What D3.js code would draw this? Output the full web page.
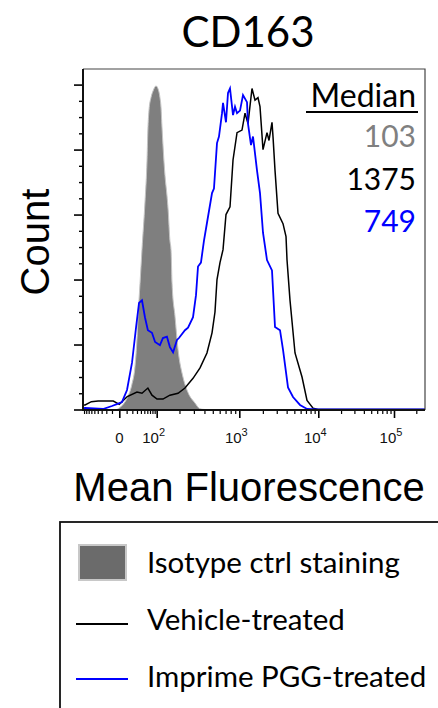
<!DOCTYPE html>
<html>
<head>
<meta charset="utf-8">
<script src="https://cdn.jsdelivr.net/npm/d3@7"></script>
<style>
  body { margin: 0; background: #fff; }
  svg { display: block; }
</style>
</head>
<body>
<div id="chart"></div>
<script>
// flow histogram values: [fluorescence, count]
var isotype = [[-3,0],[3.4,3],[12,10],[19,19],[25.5,33],[30,54],[32.5,71],[37.6,97],[43,123],[52,159],[59,192],[62,215],[66,230],[74,240],[82.5,245],[96.5,249],[104,247],[111,240],[115,232],[118,219],[122,204],[130,180],[138,165],[143,154],[151,130],[156,123],[161,97],[176,71],[192,46],[221,25],[255,13],[309,5],[355,0.5],[406,0]];

var vehicle = [[-95,3.5],[-85,3.5],[-60,6],[-39,6.5],[-8,6.5],[0,4],[11,10],[30,13.5],[43,12.5],[62,16.5],[78,11],[101,8],[122,8],[151,11],[192,12.5],[234,16.5],[293,24],[355,32],[428,43.5],[490,59],[530,75],[559,100],[605,113],[655,123],[708,150],[786,156],[850,192],[943,213],[1083,215],[1184,228],[1293,220],[1455,247],[1589,238],[1735,240],[1840,233],[2009,200],[2258,213],[2394,207],[2612,221],[2690,210],[2852,184],[3111,151],[3598,143],[3927,133],[4043,115],[4410,84],[5097,43.5],[6244,25],[7216,7],[8585,1],[9919,0],[262144,0]];

var imprime = [[-95,1],[-85,1.2],[-27,0.4],[-10,2.7],[-3,4.2],[3.4,5.8],[10.6,15],[19.4,36],[28,63.5],[35,82],[43,84],[52,71],[62,61],[78,59],[92,52],[111,49.5],[122,55],[138,56],[151,48],[166,44],[186,53.5],[197,55],[234,61],[255,63],[293,71],[318,88],[336,110],[364,113],[395,130],[428,143.5],[490,166.5],[516,170],[559,205],[589,210],[638,228],[655,236],[708,221],[746,243.5],[786,247],[850,226.5],[895,233],[943,228],[1021,230],[1116,242],[1256,236.5],[1293,220],[1413,203.5],[1499,210],[1685,184],[1840,166.5],[2009,136],[2258,115],[2612,107],[2852,63.5],[3298,61],[3598,46],[4160,17],[4811,9.6],[5893,3.5],[7216,0.4],[9635,0],[262144,0]];

var medianLabels = ["103", "1375", "749"];
var medianColors = ["#808080", "#000000", "#0000ff"];

var xMajor = [0, 1e2, 1e3, 1e4, 1e5];
var xMajorLabels = [["0", ""], ["10", "2"], ["10", "3"], ["10", "4"], ["10", "5"]];
var xMinor = [-90,-80,-70,-60,-50,-40,-30,-20,-10,10,20,30,40,50,60,70,80,90,
  200,300,400,500,600,700,800,900,2000,3000,4000,5000,6000,7000,8000,9000,
  20000,30000,40000,50000,60000,70000,80000,90000,200000];
var yMajor = [0, 50, 100, 150, 200, 250];
var yMinor = [12.5, 25, 37.5, 62.5, 75, 87.5, 112.5, 125, 137.5, 162.5, 175, 187.5, 212.5, 225, 237.5];

var legendItems = ["Isotype ctrl staining", "Vehicle-treated", "Imprime PGG-treated"];

const W = 438, H = 708;
const pLeft = 83, pRight = 425, pTop = 69, pBottom = 410;

var svg = d3.select("#chart").append("svg")
    .attr("width", W)
    .attr("height", H);

// biexponential-like display: symlog pieces pinned to the decade ticks
const x = d3.scaleSymlog()
    .constant(30)
    .domain([-95, 0, 1e2, 1e3, 1e4, 1e5, 262144])
    .range([pLeft, 119.3, 156.7, 239.3, 318.3, 394, pRight]);

const y = d3.scaleLinear()
    .domain([0, 262])
    .range([pBottom - 0.5, pTop]);

svg.append("defs").append("clipPath").attr("id", "clip")
  .append("rect").attr("x", pLeft).attr("y", pTop).attr("width", pRight - pLeft).attr("height", pBottom - pTop);

var plot = svg.append("g").attr("clip-path", "url(#clip)");

// isotype filled
plot.append("path")
    .datum(isotype)
    .attr("fill", "#7f7f7f")
    .attr("stroke", "#c4c4c4")
    .attr("stroke-width", 1)
    .attr("d", d3.area()
        .curve(d3.curveMonotoneX)
        .x(d => x(d[0]))
        .y0(y(0))
        .y1(d => y(d[1])));

var line = d3.line()
    .x(d => x(d[0]))
    .y(d => y(d[1]));

plot.append("path")
    .datum(vehicle)
    .attr("fill", "none")
    .attr("stroke", "#000")
    .attr("stroke-width", 1.5)
    .attr("d", line);

plot.append("path")
    .datum(imprime)
    .attr("fill", "none")
    .attr("stroke", "#0000ff")
    .attr("stroke-width", 1.8)
    .attr("d", line);

// frame
svg.append("path")
    .attr("d", `M${pLeft},${pTop}H${pRight}V${pBottom}`)
    .attr("fill", "none")
    .attr("stroke", "#444")
    .attr("stroke-width", 1.2);

// y axis
svg.append("g")
    .attr("transform", `translate(${pLeft},0)`)
    .call(d3.axisLeft(y).tickValues(yMajor).tickSize(9).tickFormat(""))
    .call(g => g.select(".domain").remove())
    .call(g => g.selectAll("line").attr("stroke-width", 1.6));
svg.append("g")
    .attr("transform", `translate(${pLeft},0)`)
    .call(d3.axisLeft(y).tickValues(yMinor).tickSize(4).tickFormat(""))
    .call(g => g.select(".domain").remove())
    .call(g => g.selectAll("line").attr("stroke-width", 1.4));

// x axis
svg.append("g")
    .attr("transform", `translate(0,${pBottom})`)
    .call(d3.axisBottom(x).tickValues(xMajor).tickSize(8).tickFormat(""))
    .call(g => g.select(".domain").remove())
    .call(g => g.selectAll("line").attr("stroke-width", 1.6));
svg.append("g")
    .attr("transform", `translate(0,${pBottom})`)
    .call(d3.axisBottom(x).tickValues(xMinor).tickSize(4).tickFormat(""))
    .call(g => g.select(".domain").remove())
    .call(g => g.selectAll("line").attr("stroke-width", 1.2));

svg.append("line")
    .attr("x1", pLeft).attr("x2", pLeft).attr("y1", pTop).attr("y2", pBottom + 1)
    .attr("stroke", "#111").attr("stroke-width", 2);
svg.append("line")
    .attr("x1", pLeft - 1).attr("x2", pRight).attr("y1", pBottom).attr("y2", pBottom)
    .attr("stroke", "#111").attr("stroke-width", 2);

// x tick labels with superscripts
xMajor.forEach(function(v, i) {
    var t = svg.append("text")
        .attr("x", x(v) - (i === 0 ? 0 : 3))
        .attr("y", 443)
        .attr("text-anchor", "middle")
        .style("font-family", "'Liberation Sans', Arial, sans-serif")
        .style("font-size", "15px")
        .attr("fill", "#111");
    t.append("tspan").text(xMajorLabels[i][0]);
    if (xMajorLabels[i][1]) {
        t.append("tspan")
            .attr("dy", -7)
            .style("font-size", "11px")
            .text(xMajorLabels[i][1]);
    }
});

// titles
svg.append("text")
    .attr("x", 248)
    .attr("y", 47)
    .attr("text-anchor", "middle")
    .style("font-family", "Lato, sans-serif")
    .style("font-size", "42px")
    .text("CD163");

svg.append("text")
    .attr("transform", "translate(49,242) rotate(-90)")
    .attr("text-anchor", "middle")
    .style("font-family", "'Liberation Sans', Arial, sans-serif")
    .style("font-size", "40px")
    .text("Count");

svg.append("text")
    .attr("x", 249)
    .attr("y", 501)
    .attr("text-anchor", "middle")
    .style("font-family", "'Liberation Sans', Arial, sans-serif")
    .style("font-size", "40px")
    .text("Mean Fluorescence");

// median block
svg.append("text")
    .attr("x", 416)
    .attr("y", 107)
    .attr("text-anchor", "end")
    .style("font-family", "Lato, sans-serif")
    .style("font-size", "32px")
    .text("Median");
svg.append("line")
    .attr("x1", 306).attr("x2", 418).attr("y1", 112).attr("y2", 112)
    .attr("stroke", "#000").attr("stroke-width", 2);

medianLabels.forEach(function(m, i) {
    svg.append("text")
        .attr("x", 416)
        .attr("y", 147 + i * 42.5)
        .attr("text-anchor", "end")
        .style("font-family", "Lato, sans-serif")
        .style("font-size", "30px")
        .attr("fill", medianColors[i])
        .text(m);
});

// legend box
svg.append("rect")
    .attr("x", 60).attr("y", 522)
    .attr("width", 400).attr("height", 200)
    .attr("fill", "#fff")
    .attr("stroke", "#111")
    .attr("stroke-width", 1.8);

svg.append("rect")
    .attr("x", 79).attr("y", 545)
    .attr("width", 47).attr("height", 35)
    .attr("fill", "#6b6b6b")
    .attr("stroke", "#c8c8c8")
    .attr("stroke-width", 2);

svg.append("line")
    .attr("x1", 76).attr("x2", 128).attr("y1", 624).attr("y2", 624)
    .attr("stroke", "#000").attr("stroke-width", 2.2);
svg.append("line")
    .attr("x1", 76).attr("x2", 128).attr("y1", 679).attr("y2", 679)
    .attr("stroke", "#0000ff").attr("stroke-width", 2.2);

legendItems.forEach(function(s, i) {
    svg.append("text")
        .attr("x", 147)
        .attr("y", 573 + i * 57)
        .style("font-family", "Lato, sans-serif")
        .style("font-size", "29.5px")
        .text(s);
});
</script>
</body>
</html>
